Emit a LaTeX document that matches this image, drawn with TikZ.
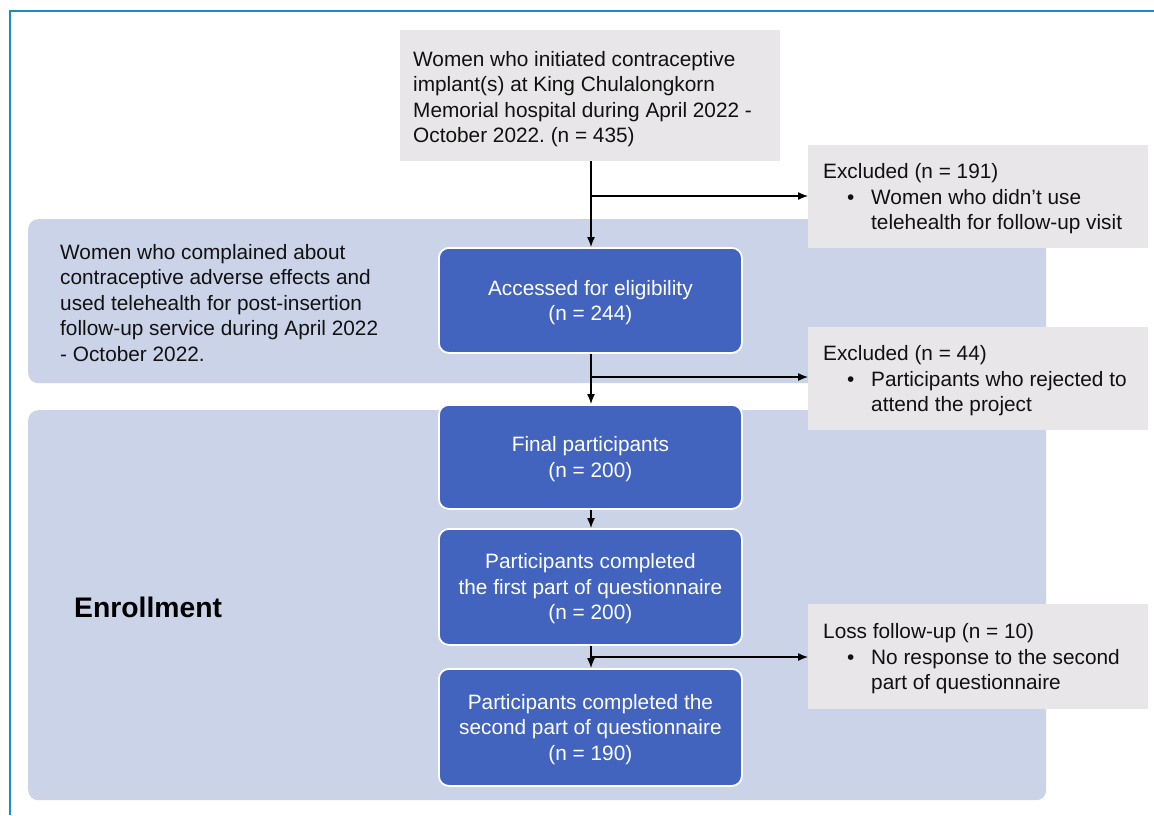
\documentclass[tikz,border=0pt]{standalone}
\usepackage{fontspec}
\setmainfont{Liberation Sans}
\usetikzlibrary{arrows.meta}
\frenchspacing
\definecolor{grayfill}{HTML}{E8E6E8}
\definecolor{bandfill}{HTML}{CAD3E8}
\definecolor{boxblue}{HTML}{4264BE}
\definecolor{frameblue}{HTML}{1A8CC6}
\definecolor{txt}{HTML}{111111}
\newcommand{\tfont}{\fontsize{20.8}{25.5}\selectfont}
\tikzset{
  graybox/.style={fill=grayfill, draw=none, inner sep=0pt},
  band/.style={fill=bandfill, draw=none, rounded corners=10pt},
  bluebox/.style={fill=boxblue, draw=white, line width=1.8pt, rounded corners=10pt, inner sep=0pt},
  ltext/.style={anchor=west, align=left, font=\tfont, text=txt, inner sep=0pt},
  wtext/.style={text=white, align=center, font=\tfont, inner sep=0pt},
  conn/.style={line width=1.3pt, draw=black, -{Latex[length=10pt,width=8pt]}},
}
\begin{document}
\begin{tikzpicture}[x=1pt,y=-1pt]
\useasboundingbox (0,0) rectangle (1154,815);
\fill[white] (0,0) rectangle (1154,815);
% frame
\draw[frameblue, line width=2pt] (10,815) -- (10,11) -- (1154,11);
% bands
\node[band, minimum width=1018pt, minimum height=164pt, anchor=north west] (band1) at (28,219) {};
\node[band, minimum width=1018pt, minimum height=390pt, anchor=north west] (band2) at (28,410) {};
% top box
\node[graybox, minimum width=380pt, minimum height=131pt, anchor=north west] (top) at (400,30) {};
\node[ltext] (toptext) at (413,99) {Women who initiated contraceptive\\implant(s) at King Chulalongkorn\\Memorial hospital during April 2022 -\\October 2022. (n = 435)};
% excluded boxes
\node[graybox, minimum width=340pt, minimum height=103pt, anchor=north west] (ex1) at (808,145) {};
\node[ltext] (ex1text) at (823,199) {Excluded (n = 191)\\\hspace*{24pt}\makebox[24pt][l]{\textbullet}Women who didn’t use\\\hspace*{48pt}telehealth for follow-up visit};
\node[graybox, minimum width=340pt, minimum height=103pt, anchor=north west] (ex2) at (808,327) {};
\node[ltext] (ex2text) at (823,381) {Excluded (n = 44)\\\hspace*{24pt}\makebox[24pt][l]{\textbullet}Participants who rejected to\\\hspace*{48pt}attend the project};
\node[graybox, minimum width=340pt, minimum height=105pt, anchor=north west] (loss) at (808,604) {};
\node[ltext] (losstext) at (823,659) {Loss follow-up (n = 10)\\\hspace*{24pt}\makebox[24pt][l]{\textbullet}No response to the second\\\hspace*{48pt}part of questionnaire};
% band 1 text
\node[ltext] (b1text) at (60,303) {Women who complained about\\contraceptive adverse effects and\\used telehealth for post-insertion\\follow-up service during April 2022\\- October 2022.};
% enrollment
\node[anchor=west, font=\fontsize{28.3}{32}\selectfont\bfseries, text=black, inner sep=0pt] (enroll) at (74,607) {Enrollment};
% blue boxes
\node[bluebox, minimum width=303pt, minimum height=105pt, anchor=north west] (b1) at (438,247) {};
\node[wtext] at ([yshift=-2pt]b1.center) {Accessed for eligibility\\(n = 244)};
\node[bluebox, minimum width=303pt, minimum height=104pt, anchor=north west] (b2) at (438,404) {};
\node[wtext] at ([yshift=-2pt]b2.center) {Final participants\\(n = 200)};
\node[bluebox, minimum width=303pt, minimum height=116pt, anchor=north west] (b3) at (438,528) {};
\node[wtext] at ([yshift=-2pt]b3.center) {Participants completed\\the first part of questionnaire\\(n = 200)};
\node[bluebox, minimum width=303pt, minimum height=117pt, anchor=north west] (b4) at (438,668) {};
\node[wtext] at ([yshift=-2pt]b4.center) {Participants completed the\\second part of questionnaire\\(n = 190)};
% connectors
\coordinate (j1) at (591,196);
\coordinate (j2) at (591,377);
\coordinate (j3) at (591,657);
\draw[conn] (top.south -| j1) -- (b1.north -| j1);
\draw[conn] (j1) -- (ex1.west |- j1);
\draw[conn] (b1.south -| j2) -- (b2.north -| j2);
\draw[conn] (j2) -- (ex2.west |- j2);
\draw[conn] (b2.south -| j2) -- (b3.north -| j2);
\draw[conn] (b3.south -| j3) -- (b4.north -| j3);
\draw[conn] (j3) -- (loss.west |- j3);
\end{tikzpicture}
\end{document}
